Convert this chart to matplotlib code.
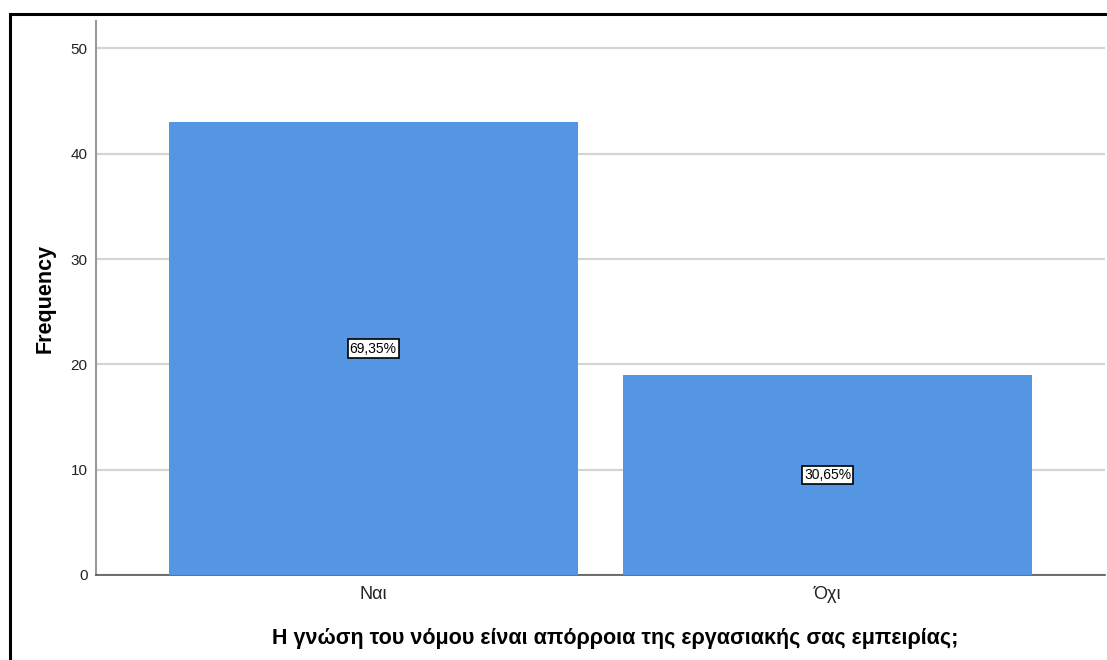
import matplotlib
matplotlib.use("Agg")
import matplotlib.pyplot as plt
from matplotlib.patches import Rectangle

categories = ["Ναι", "Όχι"]
frequencies = [43, 19]
pct_labels = ["69,35%", "30,65%"]
y_ticks = [0, 10, 20, 30, 40, 50]
xlabel = "Η γνώση του νόμου είναι απόρροια της εργασιακής σας εμπειρίας;"
ylabel = "Frequency"

plt.rcParams['font.family'] = ['Liberation Sans', 'DejaVu Sans']

W, H = 1107, 660
fig = plt.figure(figsize=(W / 100, H / 100), dpi=100)
fig.patch.set_facecolor('white')

# outer frame (cropped at right and bottom)
fig.add_artist(Rectangle((9.5 / W, 0 - 0.05), 2, 1 - 13.5 / H + 0.05,
                         transform=fig.transFigure, fill=False,
                         edgecolor='black', linewidth=2.2))

ax = fig.add_axes([96 / W, 1 - 575 / H, (1105 - 96) / W, (575 - 21) / H])
x = list(range(len(categories)))
ax.bar(x, frequencies, width=0.9, color='#5596e3', zorder=3)
ax.set_xlim(-0.61, 1.61)
ax.set_ylim(0, 52.6)
ax.set_yticks(y_ticks)
ax.set_yticklabels([str(t) for t in y_ticks], fontsize=11, color='#222222')
ax.set_xticks(x)
ax.set_xticklabels(categories, fontsize=13, color='#222222')
ax.tick_params(axis='both', length=0)
ax.tick_params(axis='y', pad=6)
ax.tick_params(axis='x', pad=8)
ax.grid(axis='y', color='#d4d4d4', linewidth=1.6, zorder=0)
for s in ['top', 'right']:
    ax.spines[s].set_visible(False)
ax.spines['left'].set_color('#999999')
ax.spines['left'].set_linewidth(1.5)
ax.spines['bottom'].set_color('#555555')
ax.spines['bottom'].set_linewidth(1.2)

for xi, f, lab in zip(x, frequencies, pct_labels):
    ax.text(xi, f / 2, lab, ha='center', va='center', fontsize=10, zorder=5,
            bbox=dict(boxstyle='square,pad=0.15', facecolor='white',
                      edgecolor='black', linewidth=1.2))

ax.set_xlabel(xlabel, fontsize=15.5, fontweight='bold')
ax.xaxis.set_label_coords(0.515, -0.096)
ax.set_ylabel(ylabel, fontsize=15.5, fontweight='bold', labelpad=11)

fig.savefig('out.png', dpi=100)
